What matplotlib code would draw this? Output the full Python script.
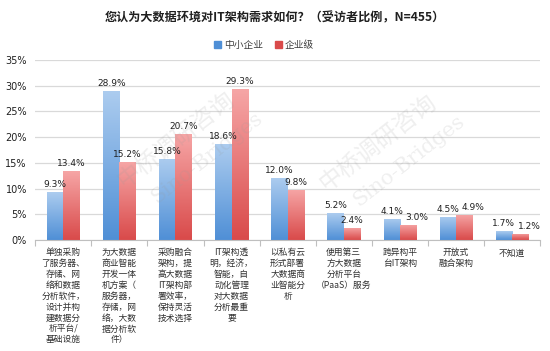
import numpy as np
import matplotlib
matplotlib.use("Agg")
import matplotlib.pyplot as plt
from matplotlib.colors import LinearSegmentedColormap
from matplotlib.ticker import FuncFormatter

plt.rcParams["font.family"] = ["Noto Sans CJK SC", "DejaVu Sans"]

# data
categories = [
    "单独采购\n了服务器、\n存储、网\n络和数据\n分析软件，\n设计并构\n建数据分\n析平台/\n基础设施",
    "为大数据\n商业智能\n开发一体\n机方案（\n服务器，\n存储，网\n络，大数\n据分析软\n件）",
    "采购融合\n架构，提\n高大数据\nIT架构部\n署效率，\n保持灵活\n技术选择",
    "IT架构透\n明，经济，\n智能，自\n动化管理\n对大数据\n分析最重\n要",
    "以私有云\n形式部署\n大数据商\n业智能分\n析",
    "使用第三\n方大数据\n分析平台\n（PaaS）服务",
    "跨异构平\n台IT架构",
    "开放式\n融合架构",
    "不知道",
]
sme = [9.3, 28.9, 15.8, 18.6, 12.0, 5.2, 4.1, 4.5, 1.7]
enterprise = [13.4, 15.2, 20.7, 29.3, 9.8, 2.4, 3.0, 4.9, 1.2]
series_names = ["中小企业", "企业级"]
yticks = [0, 5, 10, 15, 20, 25, 30, 35]

_GRID = "#d9d9d9"
_BLUE = ("#4f8fd6", "#acccef")
_RED = ("#d94a4a", "#f6a6a6")

fig = plt.figure(figsize=(5.5, 3.51), dpi=100)
ax = fig.add_axes([0.064, 0.316, 0.918, 0.513])

x = np.arange(len(categories))
w = 0.29


def gradient_bars(xs, vals, colors):
    bars = ax.bar(xs, vals, width=w, color="none", edgecolor="none", zorder=2)
    cmap = LinearSegmentedColormap.from_list("g", [colors[0], colors[1]])
    grad = np.linspace(0, 1, 256).reshape(-1, 1)
    for b in bars:
        x0, y0 = b.get_x(), b.get_y()
        im = ax.imshow(grad, cmap=cmap, aspect="auto", origin="lower",
                       extent=(x0, x0 + b.get_width(), y0, y0 + b.get_height()),
                       zorder=2)
        im.set_clip_path(b)
    return bars


gradient_bars(x - w / 2, sme, _BLUE)
gradient_bars(x + w / 2, enterprise, _RED)

# value labels; nudge the red one aside when the two bars are nearly equal
for i, (a, b) in enumerate(zip(sme, enterprise)):
    close = abs(a - b) < 1.5
    ax.text(i - w / 2, a + 0.6, f"{a:.1f}%", ha="center", va="bottom",
            fontsize=6.5, color="#202020", family="DejaVu Sans", zorder=4)
    ax.text(i + w / 2 + (0.16 if close else 0), b + 0.6, f"{b:.1f}%",
            ha="center", va="bottom", fontsize=6.5, color="#202020",
            family="DejaVu Sans", zorder=4)

ax.set_xlim(-0.5, len(categories) - 0.5)
ax.set_ylim(0, 35)
ax.set_yticks(yticks)
ax.yaxis.set_major_formatter(FuncFormatter(lambda v, _: f"{v:.0f}%"))
ax.tick_params(axis="y", length=0, labelsize=7, colors="#202020", pad=6)
for lab in ax.get_yticklabels():
    lab.set_family("DejaVu Sans")
ax.grid(axis="y", color=_GRID, linewidth=0.9, zorder=0)
ax.set_axisbelow(True)

# category boundaries as ticks, labels drawn as text
ax.set_xticks(np.arange(len(categories) + 1) - 0.5)
ax.set_xticklabels([])
ax.tick_params(axis="x", length=4, color="#bfbfbf", direction="out")
for i, c in enumerate(categories):
    ax.text(i, -1.6, c, ha="center", va="top", fontsize=6.3, color="#303030",
            linespacing=1.27, multialignment="center")

for s in ("top", "right", "left"):
    ax.spines[s].set_visible(False)
ax.spines["bottom"].set_color("#bfbfbf")

# watermarks
for (wx, wy) in ((0.30, 0.52), (0.70, 0.50)):
    ax.text(wx - 0.02, wy + 0.04, "中桥调研咨询", transform=ax.transAxes, rotation=38,
            fontsize=17, color="#9a9a9a", alpha=0.16, ha="center", va="center", zorder=5)
    ax.text(wx + 0.04, wy - 0.06, "Sino-Bridges", transform=ax.transAxes, rotation=38,
            fontsize=15, color="#9a9a9a", alpha=0.16, ha="center", va="center",
            family="DejaVu Serif", zorder=5)

fig.text(0.5, 0.95, "您认为大数据环境对IT架构需求如何？（受访者比例，N=455）",
         ha="center", va="center", fontsize=8.7, fontweight="bold", color="#202020")

handles = [plt.Rectangle((0, 0), 1, 1, color=_BLUE[0]),
           plt.Rectangle((0, 0), 1, 1, color=_RED[0])]
fig.legend(handles, series_names, loc="center", bbox_to_anchor=(0.48, 0.872), ncol=2,
           frameon=False, fontsize=7, handlelength=0.7, handleheight=0.7,
           handletextpad=0.3, columnspacing=1.2, labelcolor="#404040")

fig.savefig("out.png", dpi=100)
